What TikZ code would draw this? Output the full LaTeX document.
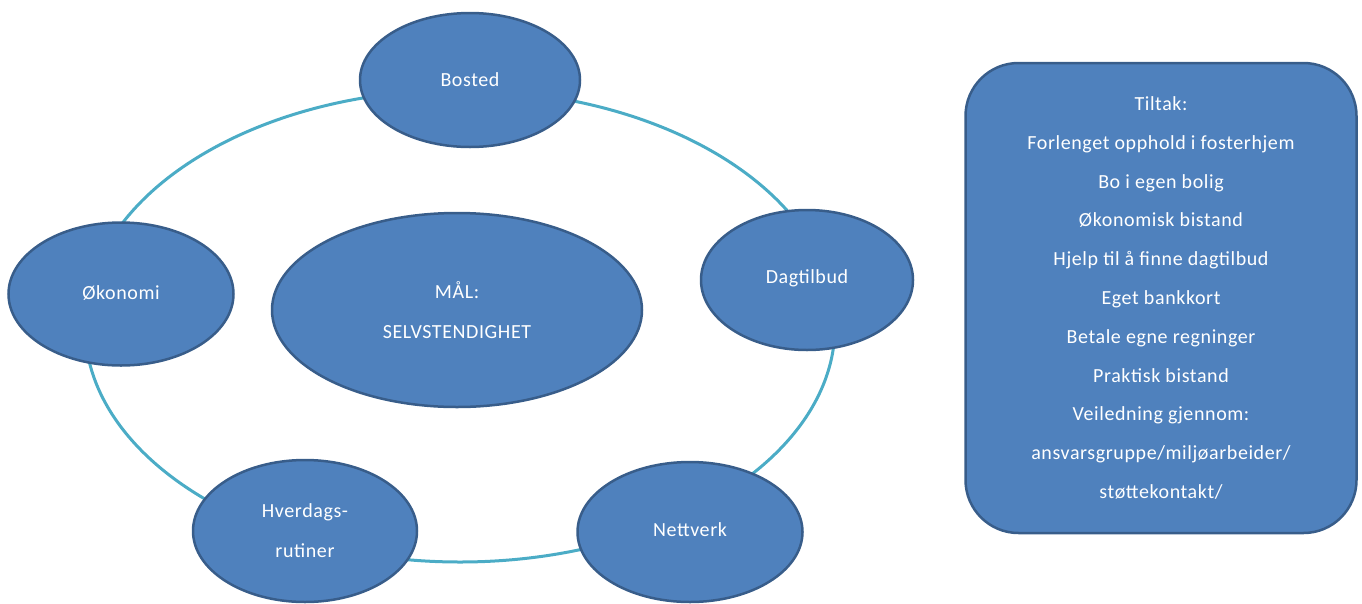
\documentclass[tikz,border=0pt]{standalone}
\usepackage{fontspec}
\setmainfont{Carlito}[LetterSpace=3]
\usetikzlibrary{shapes.geometric}
\definecolor{shapefill}{HTML}{4F81BD}
\definecolor{shapeline}{HTML}{385D8A}
\definecolor{ringline}{HTML}{4BACC6}
\tikzset{
  topic/.style={ellipse, draw=shapeline, line width=2.5pt, fill=shapefill,
    text=white, align=center, inner sep=0pt, font=\fontsize{20}{40}\selectfont},
  ringshape/.style={ellipse, draw=ringline, line width=3pt, inner sep=0pt},
  tiltakbox/.style={rectangle, rounded corners=53pt, draw=shapeline, line width=2.5pt,
    fill=shapefill, text=white, align=center, inner sep=0pt,
    font=\fontsize{20}{38.8}\selectfont}
}
\begin{document}
\begin{tikzpicture}[x=1pt, y=-1pt]
\useasboundingbox (0,0) rectangle (1362,603);
% ring behind the topics
\node[ringshape, minimum width=750pt, minimum height=472pt] (ring) at (460,326) {};
% topics
\node[topic, minimum width=220pt, minimum height=134pt] (bosted) at (470,80) {\raisebox{1pt}{Bosted}};
\node[topic, minimum width=212pt, minimum height=140pt] (dagtilbud) at (807,280) {\raisebox{6pt}{Dagtilbud}};
\node[topic, minimum width=225pt, minimum height=143pt] (okonomi) at (121,294) {\raisebox{2pt}{Økonomi}};
\node[topic, minimum width=224pt, minimum height=142pt] (hverdag) at (305,531) {Hverdags-\\rutiner};
\node[topic, minimum width=225pt, minimum height=140pt] (nettverk) at (690,532) {\raisebox{4pt}{Nettverk}};
\node[topic, minimum width=370pt, minimum height=194pt] (maal) at (457,310) {MÅL:\\SELVSTENDIGHET};
% tiltak box
\node[tiltakbox, minimum width=391pt, minimum height=470pt] (tiltak) at (1161,298) {Tiltak:\\Forlenget opphold i fosterhjem\\Bo i egen bolig\\Økonomisk bistand\\Hjelp til å finne dagtilbud\\Eget bankkort\\Betale egne regninger\\Praktisk bistand\\Veiledning gjennom:\\ansvarsgruppe/miljøarbeider/\\støttekontakt/};
\end{tikzpicture}
\end{document}
